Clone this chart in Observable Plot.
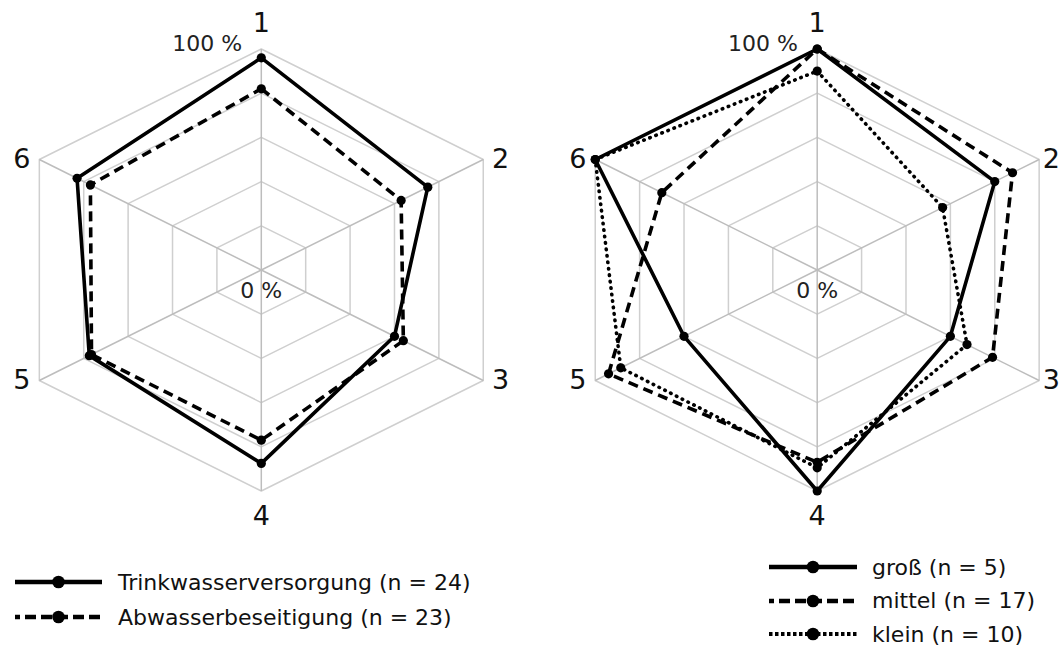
<!DOCTYPE html>
<html><head><meta charset="utf-8">
<script src="https://cdn.jsdelivr.net/npm/d3@7"></script>
<script src="https://cdn.jsdelivr.net/npm/@observablehq/plot@0.6"></script>
<style>
body{margin:0;background:#fff;font-family:"DejaVu Sans",sans-serif;}
#wrap{position:relative;width:1062px;height:646px;overflow:hidden;background:#fff;}
.row{position:absolute;display:flex;align-items:center;white-space:nowrap;font-size:22px;color:#111;height:30px;}
.row svg{flex:none;}
</style></head><body><div id="wrap"></div>
<script>
// ---- data ----
const axisLabels = ["1", "2", "3", "4", "5", "6"];
const ringLevels = [0.2, 0.4, 0.6, 0.8, 1.0];
const scaleMin = "0 %";
const scaleMax = "100 %";

const trinkwasser = [0.96, 0.75, 0.60, 0.875, 0.775, 0.83];
const abwasser    = [0.82, 0.63, 0.64, 0.77, 0.765, 0.77];

const gross  = [1.00, 0.80, 0.60, 1.00, 0.60, 1.00];
const mittel = [1.00, 0.88, 0.79, 0.87, 0.94, 0.70];
const klein  = [0.90, 0.565, 0.675, 0.895, 0.885, 1.00];

const leftNames  = ["Trinkwasserversorgung (n = 24)", "Abwasserbeseitigung (n = 23)"];
const rightNames = ["groß (n = 5)", "mittel (n = 17)", "klein (n = 10)"];

// ---- layout helpers ----
const W = 1062, H = 540;
const pxX = 256.3, pxY = 221;         // pixels per unit radius
const cxL = 260.8, cxR = 816.7, cy = 269.5;
const offL = 0, offR = (cxR - cxL) / pxX;

const styles = {
  solid:  {strokeDasharray: null, strokeWidth: 3.6, strokeLinecap: "butt"},
  dashed: {strokeDasharray: "10 6", strokeWidth: 3.6, strokeLinecap: "butt"},
  dotted: {strokeDasharray: "0.5 6", strokeWidth: 3.6, strokeLinecap: "round"}
};

const charts = [
  {offset: offL, series: [
    {name: leftNames[0], values: trinkwasser, style: "solid"},
    {name: leftNames[1], values: abwasser, style: "dashed"}]},
  {offset: offR, series: [
    {name: rightNames[0], values: gross, style: "solid"},
    {name: rightNames[1], values: mittel, style: "dashed"},
    {name: rightNames[2], values: klein, style: "dotted"}]}
];

const ang = k => k * Math.PI / 3;
const pos = (off, v, k) => ({x: off + v * Math.sin(ang(k)), y: v * Math.cos(ang(k))});

const rings = [], spokes = [], lines = [], dots = [], labels = [], scaleText = [];
charts.forEach((c, ci) => {
  ringLevels.forEach(l => {
    for (let k = 0; k <= 6; k++) rings.push({...pos(c.offset, l, k % 6), ring: ci + "-" + l});
  });
  axisLabels.forEach((lab, k) => {
    const p = pos(c.offset, 1, k);
    spokes.push({x1: c.offset, y1: 0, x2: p.x, y2: p.y});
    const s = Math.sin(ang(k));
    let lx = p.x, ly = p.y;
    if (Math.abs(s) < 0.1) ly = p.y * 1.115;
    else lx = p.x + Math.sign(s) * (ci === 1 && s > 0 ? 0.048 : 0.068);
    labels.push({x: lx, y: ly, text: lab});
  });
  scaleText.push({x: c.offset - 0.075, y: 1.025, text: scaleMax, anchor: "end"});
  scaleText.push({x: c.offset, y: -0.095, text: scaleMin, anchor: "middle"});
  c.series.forEach(s => {
    for (let k = 0; k <= 6; k++) lines.push({...pos(c.offset, s.values[k % 6], k % 6), key: ci + s.name, style: s.style});
    s.values.forEach((v, k) => dots.push(pos(c.offset, v, k)));
  });
});

const lineMarks = Object.entries(styles).map(([st, o]) =>
  Plot.line(lines.filter(d => d.style === st), {
    x: "x", y: "y", z: "key", stroke: "#000", strokeWidth: o.strokeWidth,
    strokeDasharray: o.strokeDasharray, strokeLinecap: o.strokeLinecap, strokeLinejoin: "miter"
  }));

const chart = Plot.plot({
  width: W, height: H,
  marginLeft: 0, marginRight: 0, marginTop: 0, marginBottom: 0,
  x: {domain: [-cxL / pxX, (W - cxL) / pxX], range: [0, W], axis: null},
  y: {domain: [-(H - cy) / pxY, cy / pxY], range: [H, 0], axis: null},
  style: {fontFamily: "DejaVu Sans, sans-serif", background: "#fff", overflow: "visible"},
  marks: [
    Plot.line(rings, {x: "x", y: "y", z: "ring", stroke: "#cfcfcf", strokeWidth: 1.5}),
    Plot.link(spokes, {x1: "x1", y1: "y1", x2: "x2", y2: "y2", stroke: "#bdbdbd", strokeWidth: 1.5}),
    ...lineMarks,
    Plot.dot(dots, {x: "x", y: "y", r: 4.6, fill: "#000"}),
    Plot.text(labels, {x: "x", y: "y", text: "text", fontSize: 27, fill: "#111"}),
    Plot.text(scaleText.filter(d => d.anchor === "end"), {x: "x", y: "y", text: "text", fontSize: 22, fill: "#222", textAnchor: "end"}),
    Plot.text(scaleText.filter(d => d.anchor === "middle"), {x: "x", y: "y", text: "text", fontSize: 22, fill: "#222", textAnchor: "middle"})
  ]
});

const wrap = document.getElementById("wrap");
wrap.appendChild(chart);

// ---- legends ----
const legendStyles = {
  solid:  {dash: "", width: 4.5, cap: "butt"},
  dashed: {dash: "5 5 11 5 11 5 11 5 11 5 11 5 5", width: 4.5, cap: "butt"},
  dotted: {dash: "3.5 2.5", width: 4, cap: "butt"}
};
function legendRow(name, style, left, top, swW, gap) {
  const ls = legendStyles[style];
  const row = document.createElement("div");
  row.className = "row";
  row.style.left = left + "px";
  row.style.top = top + "px";
  const ns = "http://www.w3.org/2000/svg";
  const svg = document.createElementNS(ns, "svg");
  svg.setAttribute("width", swW); svg.setAttribute("height", 30);
  const ln = document.createElementNS(ns, "line");
  ln.setAttribute("x1", 0); ln.setAttribute("x2", swW); ln.setAttribute("y1", 15); ln.setAttribute("y2", 15);
  ln.setAttribute("stroke", "#000"); ln.setAttribute("stroke-width", ls.width);
  if (ls.dash) ln.setAttribute("stroke-dasharray", ls.dash);
  svg.appendChild(ln);
  const c = document.createElementNS(ns, "circle");
  c.setAttribute("cx", swW / 2); c.setAttribute("cy", 15); c.setAttribute("r", 6.3); c.setAttribute("fill", "#000");
  svg.appendChild(c);
  row.appendChild(svg);
  const t = document.createElement("span");
  t.textContent = name;
  t.style.marginLeft = gap + "px";
  row.appendChild(t);
  wrap.appendChild(row);
}
charts[0].series.forEach((s, i) => legendRow(s.name, s.style, 15, 567 + i * 35, 87, 16));
charts[1].series.forEach((s, i) => legendRow(s.name, s.style, 769, 552 + i * 33.5, 88, 15));
</script></body></html>
